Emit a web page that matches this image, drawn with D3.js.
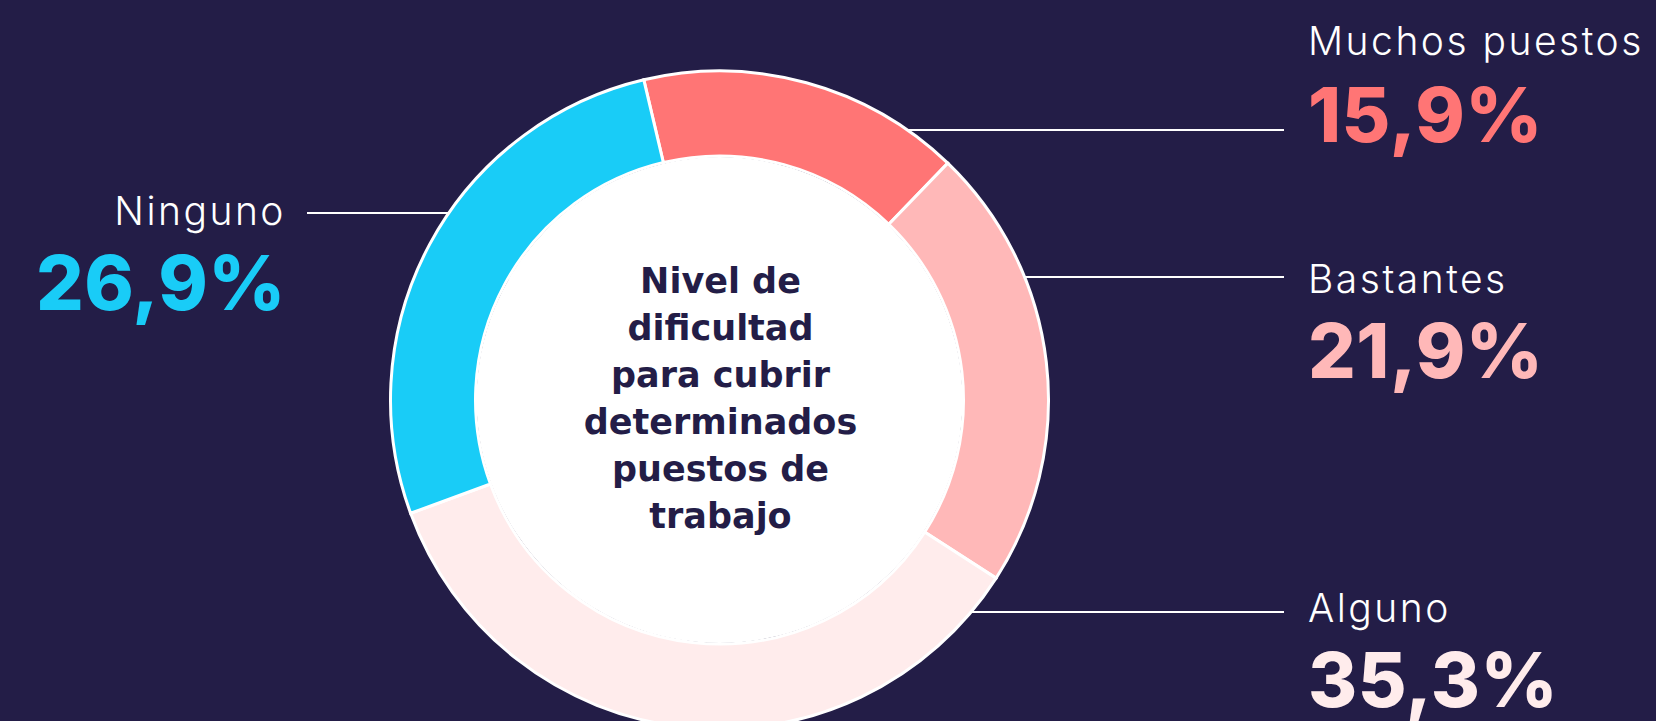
<!DOCTYPE html>
<html>
<head>
    <title>Nivel de dificultad para cubrir determinados puestos de trabajo</title>
    <script src="https://cdnjs.cloudflare.com/ajax/libs/d3/7.8.5/d3.min.js"></script>
    <style>
        html, body {
            margin: 0;
            padding: 0;
            background: #231d47;
            overflow: hidden;
        }
        .label {
            font-family: Inter, "Open Sans", sans-serif;
            font-weight: 300;
            font-size: 39px;
            fill: #ffffff;
            letter-spacing: 2.5px;
        }
        .pct {
            font-family: Inter, "DejaVu Sans", sans-serif;
            font-weight: 800;
            font-size: 75px;
            letter-spacing: 0.5px;
        }
        .center-title {
            font-family: "DejaVu Sans", sans-serif;
            font-weight: bold;
            font-size: 35px;
            fill: #231d47;
        }
        .leader {
            stroke: #ffffff;
            stroke-width: 2px;
        }
    </style>
</head>
<body>
    <div id="chart"></div>
    <script>
        // Data
        const categories = ["Muchos puestos", "Bastantes", "Alguno", "Ninguno"];
        const values = [15.9, 21.9, 35.3, 26.9];
        const colors = ["#ff7575", "#ffb8b8", "#ffecec", "#19ccf7"];
        const titleLines = ["Nivel de", "dificultad", "para cubrir", "determinados", "puestos de", "trabajo"];

        // Layout of the callouts (positions only)
        const labelLayout = [
            {side: "right", lineY: 130, labelY: 55, pctY: 142},
            {side: "right", lineY: 277, labelY: 293, pctY: 378},
            {side: "right", lineY: 612, labelY: 622, pctY: 707},
            {side: "left", lineY: 213, labelY: 225, pctY: 310}
        ];

        const width = 1656, height = 721;
        const cx = 719.5, cy = 400;
        const outerR = 329, innerR = 244;
        const rightTextX = 1308, rightLineEnd = 1284;
        const leftTextX = 286, leftLineStart = 307;

        const svg = d3.select("#chart")
            .append("svg")
                .attr("width", width)
                .attr("height", height);

        const data = categories.map((c, i) => ({name: c, value: values[i], color: colors[i]}));

        const startDeg = -13.3;
        const pie = d3.pie()
            .sort(null)
            .value(d => d.value)
            .startAngle(startDeg * Math.PI / 180)
            .endAngle((360 + startDeg) * Math.PI / 180);

        const arc = d3.arc()
            .innerRadius(innerR)
            .outerRadius(outerR);

        const g = svg.append("g")
            .attr("transform", `translate(${cx},${cy})`);

        g.selectAll("path")
            .data(pie(data))
            .enter()
            .append("path")
                .attr("d", arc)
                .attr("fill", d => d.data.color)
                .attr("stroke", "#ffffff")
                .attr("stroke-width", 3);

        // white hole
        g.append("circle")
            .attr("r", innerR - 1)
            .attr("fill", "#ffffff");

        // center title
        const lineH = 47;
        const firstBase = 293 - cy;
        g.append("text")
            .attr("class", "center-title")
            .attr("text-anchor", "middle")
            .selectAll("tspan")
            .data(titleLines)
            .enter()
            .append("tspan")
                .attr("x", 1)
                .attr("y", (d, i) => firstBase + i * lineH)
                .text(d => d);

        const fmt = v => d3.format(".1f")(v).replace(".", ",") + "%";

        // callouts
        data.forEach((d, i) => {
            const lay = labelLayout[i];
            const dy = lay.lineY - cy;
            const edge = Math.sqrt(outerR * outerR - dy * dy);
            const right = lay.side === "right";

            svg.append("line")
                .attr("class", "leader")
                .attr("x1", right ? cx + edge : leftLineStart)
                .attr("x2", right ? rightLineEnd : cx - edge)
                .attr("y1", lay.lineY)
                .attr("y2", lay.lineY);

            svg.append("text")
                .attr("class", "label")
                .attr("x", right ? rightTextX : leftTextX)
                .attr("y", lay.labelY)
                .attr("text-anchor", right ? "start" : "end")
                .text(d.name);

            svg.append("text")
                .attr("class", "pct")
                .attr("x", right ? rightTextX : leftTextX)
                .attr("y", lay.pctY)
                .attr("text-anchor", right ? "start" : "end")
                .attr("fill", d.color)
                .text(fmt(d.value));
        });
    </script>
</body>
</html>
